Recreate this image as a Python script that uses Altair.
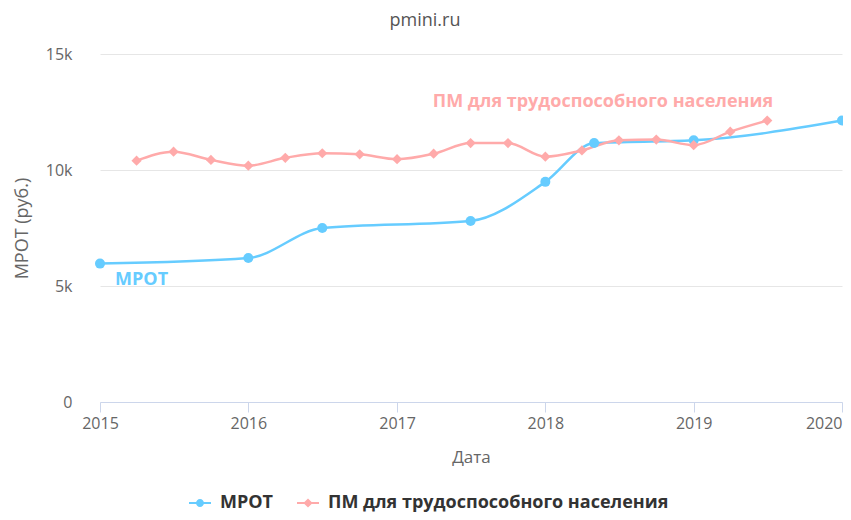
import altair as alt
import pandas as pd

# ---- data ----
series = ["МРОТ", "ПМ для трудоспособного населения"]
colors = ["#66ccff", "#ffaaaa"]

mrot_dates = ["2015-01-01", "2016-01-01", "2016-07-01", "2017-07-01",
              "2018-01-01", "2018-05-01", "2019-01-01", "2020-01-01"]
mrot_values = [5965, 6204, 7500, 7800, 9489, 11163, 11280, 12130]

pm_dates = ["2015-04-01", "2015-07-01", "2015-10-01", "2016-01-01",
            "2016-04-01", "2016-07-01", "2016-10-01", "2017-01-01",
            "2017-04-01", "2017-07-01", "2017-10-01", "2018-01-01",
            "2018-04-01", "2018-07-01", "2018-10-01", "2019-01-01",
            "2019-04-01", "2019-07-01"]
pm_values = [10404, 10792, 10436, 10187, 10524, 10722, 10678, 10466,
             10701, 11163, 11160, 10573, 10842, 11280, 11310, 11069,
             11653, 12130]

years = [2015, 2016, 2017, 2018, 2019, 2020]
y_ticks = [0, 5000, 10000, 15000]

# in-chart series labels (anchor date, value)
label_dates = ["2015-02-07", "2017-03-30"]
label_values = [5050, 12720]

# ---- tables ----
df = pd.concat([
    pd.DataFrame({"date": [d + "T00:00:00" for d in mrot_dates],
                  "value": mrot_values, "series": series[0]}),
    pd.DataFrame({"date": [d + "T00:00:00" for d in pm_dates],
                  "value": pm_values, "series": series[1]}),
], ignore_index=True)

labels_df = pd.DataFrame({"date": [d + "T00:00:00" for d in label_dates],
                          "value": label_values, "series": series})

FONT = "Open Sans"

x_enc = alt.X(
    "date:T",
    scale=alt.Scale(domain=[alt.DateTime(year=years[0], month=1, date=1),
                            alt.DateTime(year=years[-1], month=1, date=1)]),
    axis=alt.Axis(
        values=[alt.DateTime(year=y, month=1, date=1) for y in years],
        format="%Y", title="Дата", grid=False,
        domainColor="#ccd6eb", tickColor="#ccd6eb", tickSize=10,
        labelFont=FONT, labelFontSize=16, labelColor="#666666",
        labelPadding=3, titleFont=FONT, titleFontSize=17,
        titleFontWeight="normal", titleColor="#666666", titlePadding=18,
        labelAlign={"condition": {"test": "datum.index >= 1", "value": "right"}, "value": "center"},
    ),
)

y_enc = alt.Y(
    "value:Q",
    scale=alt.Scale(domain=[0, 15000]),
    axis=alt.Axis(
        values=y_ticks, title="МРОТ (руб.)",
        labelExpr="datum.value == 0 ? '0' : format(datum.value / 1000, 'd') + 'k'",
        domain=False, ticks=False, gridColor="#e6e6e6",
        labelFont=FONT, labelFontSize=16, labelColor="#666666",
        labelPadding=28, titleFont=FONT, titleFontSize=18,
        titleFontWeight="normal", titleColor="#666666", titlePadding=14,
    ),
)

color_enc = alt.Color("series:N", scale=alt.Scale(domain=series, range=colors), legend=None)

base = alt.Chart(df)

lines = base.mark_line(interpolate="monotone", strokeWidth=2.5).encode(
    x=x_enc, y=y_enc, color=color_enc
)

points = base.mark_point(filled=True, opacity=1).encode(
    x=x_enc, y=y_enc, color=color_enc,
    shape=alt.Shape("series:N", scale=alt.Scale(domain=series, range=["circle", "diamond"]), legend=None),
    size=alt.Size("series:N", scale=alt.Scale(domain=series, range=[100, 105]), legend=None),
)

texts = alt.Chart(labels_df).mark_text(
    align="left", baseline="alphabetic", font=FONT, fontSize=18, fontWeight="bold"
).encode(x=x_enc, y=y_enc, text="series:N", color=color_enc)

# legend symbols: a thin bar (the line) with the marker on it, all filled
legend_paths = [
    "M-1,-0.09L1,-0.09L1,0.09L-1,0.09Z"
    "M-0.36,0A0.36,0.36,0,1,1,0.36,0A0.36,0.36,0,1,1,-0.36,0Z",
    "M-1,-0.09L1,-0.09L1,0.09L-1,0.09Z"
    "M0,-0.42L0.42,0L0,0.42L-0.42,0Z",
]

legend_kw = dict(
    orient="none", legendX=88, legendY=437, direction="horizontal",
    title=None, labelFont=FONT, labelFontSize=18, labelFontWeight="bold",
    labelColor="#333333", labelLimit=700, symbolSize=484, symbolOpacity=1,
    symbolFillColor="#888888",
    labelOffset=8, columnPadding=22, padding=0,
)

legend_layer = alt.Chart(labels_df).mark_point(filled=True, clip=True).encode(
    x=x_enc, y=alt.value(-60),
    fill=alt.Fill("series:N", scale=alt.Scale(domain=series, range=colors),
                  legend=alt.Legend(**legend_kw)),
    shape=alt.Shape("series:N", scale=alt.Scale(domain=series, range=legend_paths),
                    legend=alt.Legend(**legend_kw)),
)

chart = alt.layer(lines, points, texts, legend_layer).resolve_scale(
    shape="independent", size="independent", fill="independent"
).properties(
    width=742, height=348,
    autosize=alt.AutoSizeParams(type="none"),
    padding={"left": 92, "top": 46, "right": 1, "bottom": 110},
    title=alt.Title("pmini.ru", font=FONT, fontSize=18, fontWeight="normal",
                    color="#555555", anchor="middle", frame="group", dx=-46, offset=16),
).configure_view(stroke=None)

chart.save("out.html", embed_options={"renderer": "svg", "actions": False})
